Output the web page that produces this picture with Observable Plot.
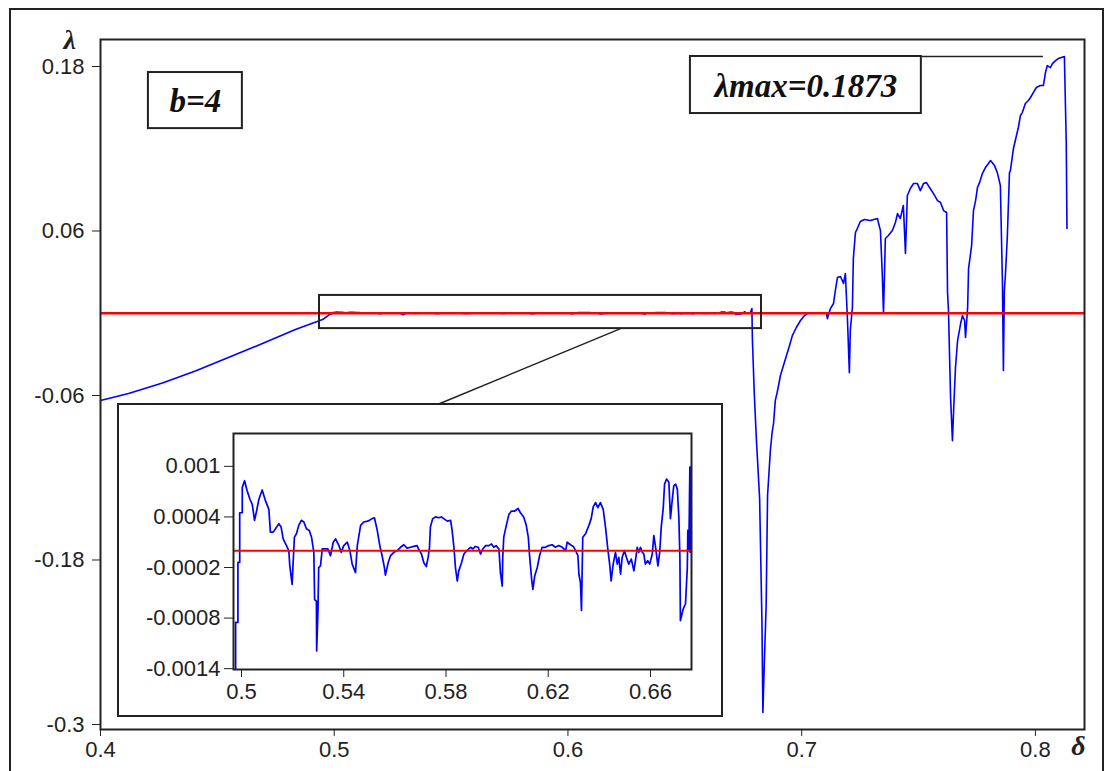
<!DOCTYPE html>
<html><head><meta charset="utf-8">
<script src="https://cdn.jsdelivr.net/npm/d3@7"></script>
<script src="https://cdn.jsdelivr.net/npm/@observablehq/plot@0.6"></script>
<style>
html,body{margin:0;padding:0;background:#fff;overflow:hidden;}
#wrap{position:relative;width:1105px;height:771px;overflow:hidden;background:#fff;}
#outer{position:absolute;left:9px;top:8px;width:1095px;height:800px;border:2px solid #222;box-sizing:border-box;}
#main{position:absolute;left:0;top:0;}
#inset{position:absolute;left:117px;top:403px;border:2px solid #222;background:#fff;width:602px;height:310px;}
#main svg,#inset svg{display:block;}
</style></head><body>
<div id="wrap"><div id="outer"></div><div id="main"></div><div id="inset"></div></div>
<script>
// ---- data ----
const leftDelta  = [0.4, 0.412, 0.4265, 0.4406, 0.4547, 0.4693, 0.4834, 0.495];
const leftLambda = [-0.0637, -0.0586, -0.0508, -0.0421, -0.0323, -0.0221, -0.0119, -0.0046];

const zoomDelta = [0.4977,0.4977,0.4986,0.4986,0.4993,0.4993,0.5003,0.5003,0.5012,0.5022,0.5033,0.5042,0.5051,0.5059,0.5068,0.5081,0.5094,0.5107,0.5113,0.5124,0.5133,0.5146,0.5155,0.5163,0.5176,0.5185,0.5189,0.5198,0.5202,0.5207,0.5215,0.5224,0.5234,0.5244,0.5254,0.5265,0.5274,0.5283,0.5286,0.5293,0.5294,0.5299,0.5302,0.5309,0.5316,0.5329,0.5338,0.5348,0.5359,0.5368,0.5381,0.5390,0.5400,0.5414,0.5424,0.5433,0.5446,0.5453,0.5466,0.5478,0.5494,0.5511,0.5520,0.5531,0.5541,0.5550,0.5559,0.5563,0.5574,0.5583,0.5596,0.5609,0.5622,0.5635,0.5648,0.5661,0.5674,0.5687,0.5694,0.5704,0.5713,0.5723,0.5730,0.5735,0.5739,0.5748,0.5759,0.5772,0.5782,0.5791,0.5805,0.5818,0.5824,0.5831,0.5837,0.5844,0.5850,0.5861,0.5870,0.5879,0.5889,0.5896,0.5905,0.5915,0.5926,0.5935,0.5944,0.5955,0.5968,0.5978,0.5987,0.5996,0.6007,0.6013,0.6020,0.6022,0.6026,0.6036,0.6046,0.6056,0.6069,0.6082,0.6091,0.6104,0.6114,0.6122,0.6127,0.6135,0.6140,0.6147,0.6157,0.6166,0.6176,0.6189,0.6202,0.6215,0.6228,0.6241,0.6255,0.6268,0.6274,0.6287,0.6298,0.6307,0.6316,0.6320,0.6326,0.6330,0.6335,0.6346,0.6359,0.6368,0.6376,0.6385,0.6394,0.6404,0.6415,0.6424,0.6433,0.6441,0.6446,0.6454,0.6463,0.6470,0.6476,0.6483,0.6489,0.6498,0.6506,0.6515,0.6525,0.6535,0.6541,0.6548,0.6554,0.6561,0.6568,0.6574,0.6580,0.6589,0.6597,0.6607,0.6613,0.6620,0.6629,0.6636,0.6642,0.6650,0.6655,0.6663,0.6672,0.6678,0.6685,0.6691,0.6698,0.6705,0.6711,0.6715,0.6717,0.6728,0.6737,0.6744,0.6746,0.6750,0.6754,0.6755,0.6757];
const zoomLambda = [-0.0014,-0.00085,-0.00085,-0.00014,-0.00014,0.00045,0.00045,0.00075,0.00083,0.00071,0.00061,0.00055,0.00036,0.00047,0.00061,0.00072,0.00059,0.00049,0.00022,0.00022,0.00026,0.00032,0.00028,0.00014,0.00006,0,-0.00018,-0.0004,-0.00014,0.00016,0.0002,0.0003,0.00036,0.00034,0.00026,0.00024,0.00016,-0.00002,-0.00058,-0.0006,-0.00119,-0.00073,-0.0002,-0.00018,0.00002,0.00002,0.00002,-0.00006,0.0001,0.00014,0.00006,-0.00002,0.00006,0.0001,0,-0.00016,-0.00026,0.00006,0.0003,0.00034,0.00035,0.00038,0.00039,0.00024,0.00006,-0.00006,-0.0002,-0.00029,-0.00014,-0.00006,-0.00002,0,0.00004,0.00007,0.00003,0.00004,0.00005,0.00006,0.00001,-0.00004,-0.00014,-0.00019,-0.00008,0.00002,0.00028,0.00038,0.0004,0.00039,0.0004,0.00038,0.00035,0.00036,0.00024,0.00004,-0.0002,-0.00036,-0.00024,-0.00014,-0.00004,-0.00001,0.00002,0.00004,0.00002,0.00005,0.00004,-0.00004,0.00002,0.00006,0.00006,0.00008,0.00004,0.00006,0.00002,-0.00026,-0.00042,-0.00008,0.00016,0.0003,0.00043,0.00047,0.00047,0.0005,0.00045,0.0004,0.0003,0.00016,-0.00006,-0.00034,-0.00046,-0.0003,-0.0002,-0.00006,0.00004,0.00004,0.00006,0.00007,0.00004,0.00006,0.00004,0,0.0001,0.00007,0.00005,0,-0.00006,-0.00028,-0.00038,-0.00071,0.00016,0.0002,0.0003,0.00038,0.00052,0.00057,0.00051,0.00057,0.00049,0.00028,0.00002,-0.00018,-0.00036,-0.00016,-0.00002,-0.00016,-0.00008,-0.00028,-0.00008,0,-0.00008,-0.00016,-0.0001,-0.00024,-0.00012,0.00004,-0.00002,0.00004,-0.00002,-0.00004,-0.00016,-0.00012,-0.00016,-0.00004,0.00018,0.00004,-0.00018,-0.00002,0.00028,0.00051,0.00079,0.00085,0.00081,0.00038,0.0006,0.00077,0.00079,0.00073,0.00039,-0.00008,-0.00083,-0.00069,-0.00063,-0.0002,0.00024,0,0.00099,-0.00002,0.00099];

const rightDelta = [0.6765,0.6780,0.6787,0.6789,0.6797,0.6806,0.6820,0.6830,0.6834,0.6840,0.6848,0.6854,0.6866,0.6873,0.6880,0.6887,0.6895,0.6901,0.6909,0.6922,0.6935,0.6948,0.6960,0.6977,0.6995,0.7012,0.7025,0.7106,0.7110,0.7123,0.7136,0.7144,0.7153,0.7166,0.7179,0.7187,0.7196,0.7204,0.7208,0.7217,0.7221,0.7230,0.7238,0.7251,0.7268,0.7294,0.7324,0.7337,0.7345,0.7350,0.7358,0.7371,0.7388,0.7401,0.7410,0.7422,0.7435,0.7444,0.7452,0.7465,0.7478,0.7495,0.7508,0.7521,0.7534,0.7547,0.7564,0.7581,0.7594,0.7607,0.7620,0.7624,0.7628,0.7637,0.7645,0.7650,0.7658,0.7667,0.7680,0.7688,0.7697,0.7701,0.7710,0.7714,0.7727,0.7735,0.7744,0.7752,0.7761,0.7773,0.7786,0.7799,0.7808,0.7825,0.7837,0.7850,0.7859,0.7863,0.7867,0.7872,0.7880,0.7889,0.7893,0.7906,0.7914,0.7927,0.7936,0.7944,0.7957,0.7970,0.7979,0.7991,0.8004,0.8021,0.8034,0.8043,0.8051,0.8064,0.8073,0.8086,0.8098,0.8124,0.8132,0.8135];
const rightLambda = [0,0.0002,0.0034,-0.0185,-0.0578,-0.0914,-0.135,-0.2256,-0.2913,-0.2555,-0.2132,-0.133,-0.1001,-0.0877,-0.0797,-0.0637,-0.0578,-0.0527,-0.0454,-0.0381,-0.0308,-0.0235,-0.0163,-0.0104,-0.0053,-0.0017,0,0,-0.0039,0.0034,0.0071,0.0166,0.0260,0.0268,0.0217,0.0290,-0.0053,-0.0433,-0.0126,0.0042,0.0399,0.0589,0.0618,0.0669,0.0684,0.0676,0.0691,0.0603,0.0275,0,0.0545,0.0567,0.0603,0.0662,0.0727,0.0691,0.0786,0.0436,0.0859,0.0910,0.0946,0.0946,0.0895,0.0946,0.0953,0.0917,0.0873,0.0822,0.0808,0.0749,0.0735,0.0151,0.0020,-0.0615,-0.0929,-0.0710,-0.0396,-0.0199,-0.0075,-0.0017,-0.0053,-0.0177,0.0042,0.0326,0.0494,0.0749,0.0822,0.0917,0.0953,0.1019,0.1063,0.1092,0.1114,0.1077,0.1026,0.0932,0.0217,-0.0418,0.0166,0.0290,0.0567,0.1026,0.1041,0.1202,0.1260,0.1355,0.1443,0.1464,0.1530,0.1552,0.1574,0.1610,0.1647,0.1661,0.1661,0.1756,0.1807,0.1792,0.1821,0.1843,0.1858,0.1873,0.1238,0.0618];

const mainXTicks = [0.4, 0.5, 0.6, 0.7, 0.8];
const mainYTicks = [0.18, 0.06, -0.06, -0.18, -0.3];
const zoomXTicks = [0.5, 0.54, 0.58, 0.62, 0.66];
const zoomYTicks = [0.001, 0.0004, -0.0002, -0.0008, -0.0014];

const lambdaMax = 0.1873;
const bLabel = "b=4";
const maxLabel = "λmax=0.1873";

// ---- build tables ----
const pts = (xs, ys) => xs.map((x, i) => ({x, y: ys[i]}));
const mainData = [...pts(leftDelta, leftLambda), ...pts(zoomDelta, zoomLambda), ...pts(rightDelta, rightLambda)];
const zoomData = pts(zoomDelta, zoomLambda);

const tickFont = "'Liberation Sans', Arial, sans-serif";
const serif = "'Liberation Serif', 'Times New Roman', serif";
const ink = "#222";

const main = Plot.plot({
  width: 1105, height: 771,
  marginLeft: 100, marginRight: 21, marginTop: 39, marginBottom: 42,
  style: {fontFamily: tickFont, fontSize: "22px", color: ink, background: "transparent"},
  x: {domain: [0.4, 0.821]},
  y: {domain: [-0.30365, 0.1997]},
  marks: [
    Plot.line(mainData, {x: "x", y: "y", stroke: "#0000ff", strokeWidth: 1.6}),
    Plot.ruleY([0], {stroke: "#ff0000", strokeWidth: 2.4}),
    Plot.rect([{x1: 0.4937, x2: 0.6828, y1: -0.0112, y2: 0.0130}], {x1: "x1", x2: "x2", y1: "y1", y2: "y2", fill: "none", stroke: ink, strokeWidth: 2}),
    Plot.link([{x1: 0.6225, y1: -0.0112, x2: 0.5442, y2: -0.0666}], {x1: "x1", y1: "y1", x2: "x2", y2: "y2", stroke: ink, strokeWidth: 1.5}),
    Plot.rect([{x1: 0.4205, x2: 0.4607, y1: 0.1347, y2: 0.1756}], {x1: "x1", x2: "x2", y1: "y1", y2: "y2", fill: "white", stroke: ink, strokeWidth: 2}),
    Plot.text([bLabel], {x: 0.4406, y: 0.1545, text: d => d, fontFamily: serif, fontWeight: "bold", fontStyle: "italic", fontSize: 33, fill: "#111"}),
    Plot.ruleY([lambdaMax], {x1: 0.6524, x2: 0.8034, stroke: ink, strokeWidth: 1.5}),
    Plot.rect([{x1: 0.6524, x2: 0.7512, y1: 0.1457, y2: lambdaMax}], {x1: "x1", x2: "x2", y1: "y1", y2: "y2", fill: "white", stroke: ink, strokeWidth: 2}),
    Plot.text([maxLabel], {x: 0.7018, y: 0.1658, text: d => d, fontFamily: serif, fontWeight: "bold", fontStyle: "italic", fontSize: 33, fill: "#111"}),
    Plot.frame({stroke: ink, strokeWidth: 2}),
    Plot.axisX({ticks: mainXTicks, tickFormat: d => String(d), tickSize: 7, tickPadding: 5, label: null, fontSize: 22}),
    Plot.axisY({ticks: mainYTicks, tickFormat: d => String(d), tickSize: 8, tickPadding: 8, label: null, fontSize: 22}),
    Plot.text(["λ"], {frameAnchor: "top-left", dx: -37, dy: -10, text: d => d, fontFamily: serif, fontWeight: "bold", fontStyle: "italic", fontSize: 28, fill: ink}),
    Plot.text(["δ"], {frameAnchor: "bottom-right", dx: 1, dy: 25, text: d => d, fontFamily: serif, fontWeight: "bold", fontStyle: "italic", fontSize: 28, fill: ink})
  ]
});
document.getElementById("main").appendChild(main);

const inset = Plot.plot({
  width: 602, height: 310,
  marginLeft: 114, marginRight: 30, marginTop: 28, marginBottom: 46,
  style: {fontFamily: tickFont, fontSize: "22px", color: ink, background: "white"},
  x: {domain: [0.49687, 0.67604]},
  y: {domain: [-0.00141, 0.00139]},
  marks: [
    Plot.line(zoomData, {x: "x", y: "y", stroke: "#0000ff", strokeWidth: 1.7, clip: true}),
    Plot.ruleY([0], {stroke: "#ff0000", strokeWidth: 2}),
    Plot.frame({stroke: ink, strokeWidth: 2}),
    Plot.axisX({ticks: zoomXTicks, tickFormat: d => String(d), tickSize: 8, tickPadding: 6, label: null, fontSize: 22}),
    Plot.axisY({ticks: zoomYTicks, tickFormat: d => String(d), tickSize: 9, tickPadding: 4, label: null, fontSize: 22})
  ]
});
document.getElementById("inset").appendChild(inset);
</script>
</body></html>
